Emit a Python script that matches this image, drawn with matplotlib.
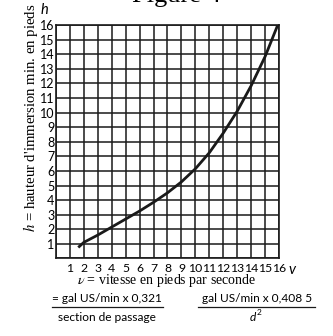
import matplotlib.pyplot as plt
from matplotlib.lines import Line2D

# courbe : vitesse v (pi/s) -> hauteur h (pi)
v = [1.6, 2, 3, 4, 5, 6, 7, 8, 9, 10, 11, 12, 13, 14, 15, 15.9]
h = [0.75, 1.1, 1.6, 2.15, 2.7, 3.25, 3.85, 4.5, 5.25, 6.15, 7.25, 8.6, 10.1, 11.85, 13.85, 16.0]

xticks = list(range(1, 17))
yticks = list(range(1, 17))

plt.rcParams['mathtext.fontset'] = 'stix'
sans = 'Lato'
serif = 'Liberation Serif'

fig = plt.figure(figsize=(3.33, 3.36), dpi=100)
ax = fig.add_axes([0.168, 0.231, 0.670, 0.694])

ax.plot(v, h, color='#1a1a1a', lw=2.0, solid_capstyle='butt')

ax.set_xlim(0, 16)
ax.set_ylim(0, 16)
ax.set_xticks(range(0, 17), [''] + [str(t) for t in xticks])
ax.set_yticks(range(0, 17), [''] + [str(t) for t in yticks])
ax.grid(True, color='#1a1a1a', lw=1.1)
for s in ax.spines.values():
    s.set_linewidth(1.2)
    s.set_color('#1a1a1a')
ax.tick_params(length=0, labelsize=9, pad=1.2)
ax.tick_params(axis='x', labelsize=8.8, pad=3.5)
for lab in ax.get_xticklabels() + ax.get_yticklabels():
    lab.set_family(sans)

# titre coupé en haut
fig.text(0.53, 0.993, 'Figure 4', family=serif, fontsize=19, ha='center', va='baseline')

# noms des axes
fig.text(0.132, 0.97, 'h', family=sans, style='italic', fontsize=10.5, ha='center', va='center')
fig.text(0.878, 0.197, 'v', family=sans, style='italic', fontsize=10.5, ha='center', va='center')
fig.text(0.093, 0.65, "$h$ = hauteur d'immersion min. en pieds", family=serif,
         fontsize=10.6, rotation=90, ha='center', va='center')
fig.text(0.50, 0.165, r"$\nu$ = vitesse en pieds par seconde", family=serif,
         fontsize=10, ha='center', va='center')

# formules
fs = 8.6
fig.text(0.322, 0.113, '= gal US/min x 0,321', family=sans, fontsize=fs, ha='center', va='center')
fig.text(0.322, 0.056, 'section de passage', family=sans, fontsize=fs, ha='center', va='center')
fig.add_artist(Line2D([0.155, 0.488], [0.087, 0.087], color='#1a1a1a', lw=0.9))
fig.text(0.772, 0.113, 'gal US/min x 0,408 5', family=sans, fontsize=fs, ha='center', va='center')
fig.text(0.768, 0.056, 'd', family=sans, style='italic', fontsize=fs, ha='right', va='center')
fig.text(0.771, 0.069, '2', family=sans, fontsize=6, ha='left', va='center')
fig.add_artist(Line2D([0.595, 0.947], [0.087, 0.087], color='#1a1a1a', lw=0.9))

fig.savefig('out.png', dpi=100)
